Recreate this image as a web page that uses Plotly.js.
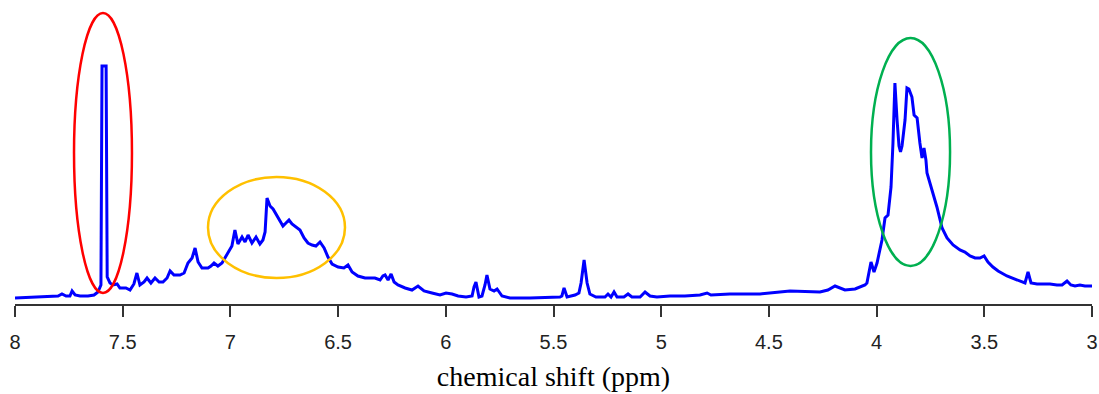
<!DOCTYPE html>
<html>
<head>
<meta charset="utf-8">
<script src="https://cdn.plot.ly/plotly-3.0.1.min.js"></script>
<style>html,body{margin:0;padding:0;background:#fff;}#chart{width:1099px;height:394px;}</style>
</head>
<body>
<div id="chart"></div>
<script>
// chemical shift (ppm)
const shift = [
 8.000,7.884,7.800,7.782,7.763,7.745,7.735,7.721,7.698,7.661,7.633,7.615,7.601,7.596,7.577,7.572,7.559,7.545,7.526,7.513,
 7.485,7.466,7.448,7.434,7.420,7.401,7.387,7.369,7.350,7.331,7.313,7.294,7.280,7.262,7.234,7.215,7.197,7.178,7.164,7.150,
 7.132,7.104,7.090,7.076,7.058,7.039,7.025,7.007,6.993,6.979,6.965,6.946,6.932,6.918,6.900,6.881,6.863,6.849,6.839,6.830,
 6.816,6.802,6.788,6.774,6.756,6.742,6.728,6.714,6.695,6.677,6.658,6.640,6.621,6.603,6.584,6.565,6.547,6.528,6.500,6.473,
 6.454,6.435,6.408,6.375,6.329,6.305,6.292,6.282,6.268,6.254,6.240,6.222,6.189,6.157,6.129,6.101,6.064,6.027,5.999,5.971,
 5.943,5.906,5.878,5.869,5.860,5.846,5.832,5.818,5.809,5.795,5.776,5.762,5.739,5.702,5.609,5.516,5.470,5.461,5.451,5.437,
 5.400,5.382,5.372,5.358,5.344,5.331,5.303,5.261,5.247,5.233,5.219,5.205,5.173,5.154,5.136,5.098,5.075,5.052,5.020,4.959,
 4.890,4.820,4.787,4.769,4.681,4.541,4.402,4.263,4.226,4.193,4.170,4.147,4.100,4.077,4.054,4.045,4.026,4.012,3.998,3.975,
 3.961,3.947,3.933,3.924,3.915,3.905,3.896,3.889,3.882,3.868,3.859,3.850,3.836,3.826,3.812,3.799,3.789,3.780,3.771,3.766,3.743,
 3.720,3.696,3.673,3.645,3.613,3.590,3.566,3.543,3.520,3.501,3.483,3.460,3.436,3.395,3.348,3.311,3.297,3.283,3.255,3.195,
 3.163,3.139,3.116,3.098,3.079,3.056,3.033,3.000
];
// signal intensity (arbitrary units)
const intensity = [
 6,7,8,10,8,8,13,9,8,8,9,12,19,238,238,27,21,19,20,16,
 16,14,20,31,19,22,26,21,26,22,22,26,33,29,29,31,41,46,56,42,
 36,36,38,41,38,41,46,52,58,74,60,67,62,69,61,67,60,64,72,106,
 98,95,90,84,78,81,84,80,77,74,66,61,59,58,62,56,47,40,37,36,
 39,32,28,26,26,24,28,29,24,30,22,19,16,14,18,13,11,9,11,10,
 8,7,8,17,22,7,8,19,29,15,13,15,8,6,6,7,7,8,16,7,
 9,11,21,44,21,10,7,7,10,7,12,7,7,10,7,7,12,8,7,8,
 8,9,11,9,10,10,13,12,14,18,16,14,15,17,19,21,42,32,41,64,
 86,89,117,161,221,184,158,152,158,184,216,215,207,189,186,161,146,156,144,131,114,
 97,76,66,59,54,52,48,46,46,48,42,37,33,28,24,21,32,21,20,20,
 19,19,23,19,18,19,18,18
];
// highlighted regions: [ppm left, ppm right, intensity bottom, intensity top]
const regionNames = ["aromatic doublet", "aromatic cluster", "sugar region"];
const regionColors = ["#ff0000", "#ffc000", "#00b050"];
const regionX0 = [7.726, 7.104, 4.026];
const regionX1 = [7.457, 6.468, 3.659];
const regionY0 = [11, 26, 38];
const regionY1 = [291, 127, 266];
const tickVals = [8, 7.5, 7, 6.5, 6, 5.5, 5, 4.5, 4, 3.5, 3];
const tickText = ["8", "7.5", "7", "6.5", "6", "5.5", "5", "4.5", "4", "3.5", "3"];

const shapes = regionNames.map((n, i) => ({
  type: "circle", xref: "x", yref: "y",
  x0: regionX0[i], x1: regionX1[i], y0: regionY0[i], y1: regionY1[i],
  line: {color: regionColors[i], width: 2.5}, layer: "above"
}));

Plotly.newPlot("chart", [{
  x: shift, y: intensity, type: "scatter", mode: "lines",
  line: {color: "#0000ff", width: 3}, hoverinfo: "x+y"
}], {
  width: 1099, height: 394,
  margin: {l: 15, r: 7, t: 0, b: 90},
  paper_bgcolor: "#ffffff", plot_bgcolor: "#ffffff",
  showlegend: false,
  shapes: shapes,
  xaxis: {
    range: [8, 3], tickvals: tickVals, ticktext: tickText,
    ticks: "outside", ticklen: 11, tickwidth: 2, tickcolor: "#333333",
    showline: true, linecolor: "#333333", linewidth: 2,
    showgrid: false, zeroline: false,
    ticklabelstandoff: 8,
    tickfont: {family: "Liberation Sans, Arial, sans-serif", size: 20, color: "#222222"},
    title: {text: "chemical shift (ppm)", font: {family: "Liberation Serif, Times New Roman, serif", size: 28, color: "#000000"}, standoff: 14},
    automargin: false
  },
  yaxis: {range: [0, 304], visible: false, showgrid: false, zeroline: false, fixedrange: true}
}, {displayModeBar: false, staticPlot: true});
</script>
</body>
</html>
